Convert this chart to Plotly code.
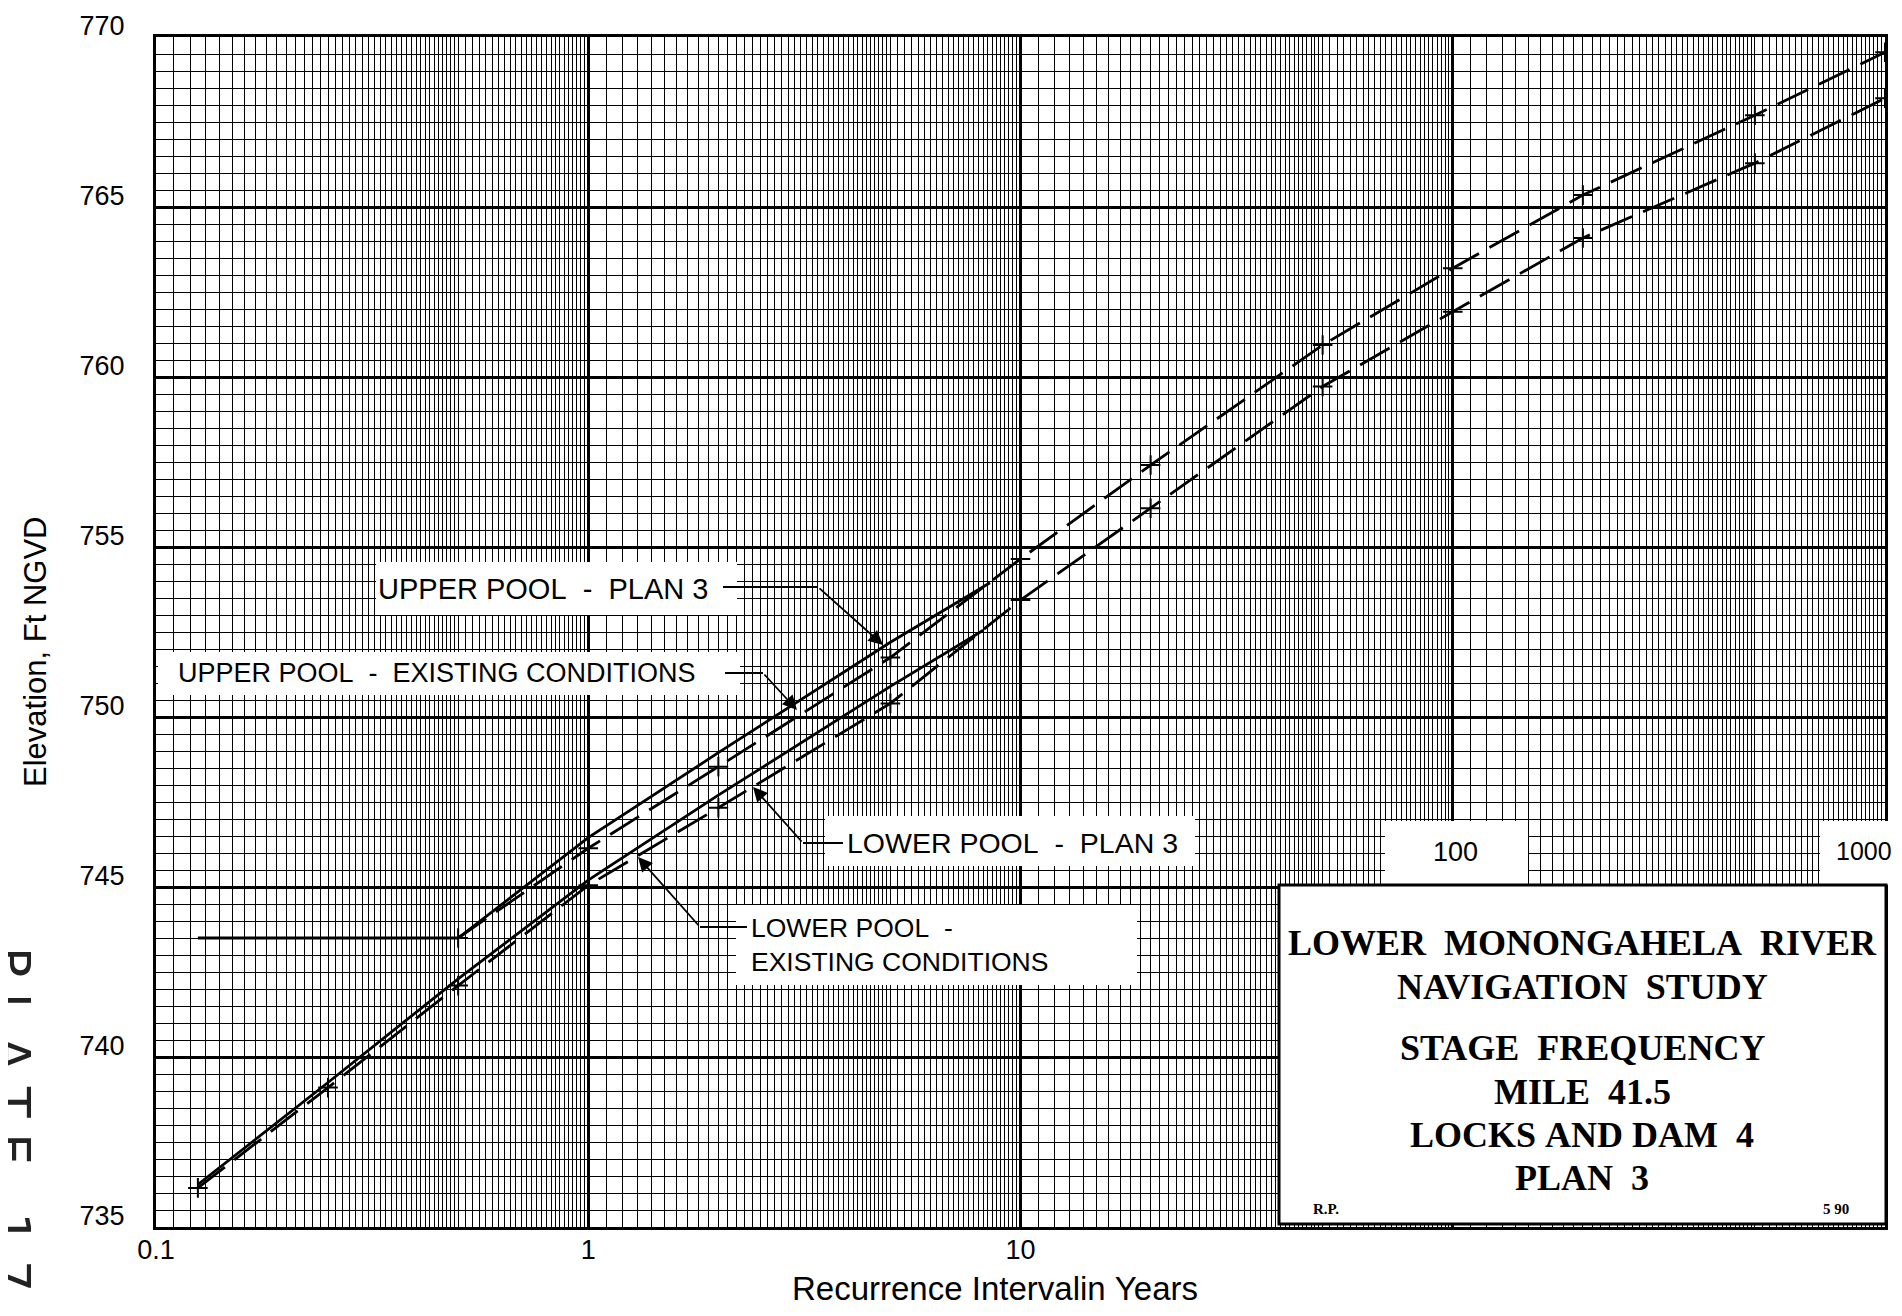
import numpy as np
import plotly.graph_objects as go

# ---------------- data ----------------
up_plan3_x = [0.125, 0.5, 1, 2, 5, 8.5]
up_plan3_y = [743.5, 743.5, 746.45, 748.95, 752.2, 753.95]

up_exist_x = [0.5, 1, 2, 5, 10, 20, 50, 100, 200, 500, 1000]
up_exist_y = [743.5, 746.14, 748.54, 751.75, 754.65, 757.41, 760.94, 763.2, 765.35, 767.7, 769.55]

lo_plan3_x = [0.125, 0.25, 0.5, 1, 2, 5, 8.2]
lo_plan3_y = [736.25, 739.25, 742.3, 745.2, 747.7, 750.9, 752.55]

lo_exist_x = [0.125, 0.25, 0.5, 1, 2, 5, 10, 20, 50, 100, 200, 500, 1000]
lo_exist_y = [736.15, 739.1, 742.1, 745.05, 747.33, 750.4, 753.44, 756.14, 759.72, 761.92, 764.09, 766.29, 768.2]

x_tick_vals = [0.1, 1, 10, 100, 1000]
x_tick_text = ["0.1", "1", "10", "", ""]
x_box_labels = ["100", "1000"]
y_tick_vals = [735, 740, 745, 750, 755, 760, 765, 770]
y_tick_text = ["735", "740", "745", "750", "755", "760", "765", "770"]

NB = "\u00a0"
title_lines = ["LOWER" + NB * 2 + "MONONGAHELA" + NB * 2 + "RIVER", "NAVIGATION" + NB * 2 + "STUDY",
               "STAGE" + NB * 2 + "FREQUENCY", "MILE" + NB * 2 + "41.5",
               "LOCKS" + NB + "AND" + NB + "DAM" + NB * 2 + "4", "PLAN" + NB * 2 + "3"]

# ---------------- geometry (page pixels) ----------------
OFF = 8                      # default body margin of the html page
FW, FH = 1902 - 2 * OFF, 1316 - 2 * OFF
L, R, T, B = 156, 1885, 37, 1227


def px(X):
    return (X - L) / (R - L)


def py(Y):
    return (B - Y) / (B - T)


SANS = "Liberation Sans, Arial, Roboto, sans-serif"
SERIF = "Liberation Serif, Times New Roman, DejaVu Serif, serif"

# log-paper minor rulings: 0.1 steps of the mantissa up to 5, then 0.2 steps
minor_x = []
for d in range(-1, 3):
    base = 10.0 ** d
    for m in np.arange(1.1, 5.0001, 0.1):
        minor_x.append(round(m * base, 6))
    for m in np.arange(5.2, 9.8001, 0.2):
        minor_x.append(round(m * base, 6))

fig = go.Figure()

LW = 2.8
DASH = "34px,12px"
fig.add_trace(go.Scatter(x=lo_exist_x, y=lo_exist_y, mode="lines+markers",
                         line=dict(color="black", width=LW, dash=DASH),
                         marker=dict(symbol="cross-thin", size=14, line=dict(color="black", width=2)),
                         showlegend=False))
fig.add_trace(go.Scatter(x=up_exist_x, y=up_exist_y, mode="lines+markers",
                         line=dict(color="black", width=LW, dash=DASH),
                         marker=dict(symbol="cross-thin", size=14, line=dict(color="black", width=2)),
                         showlegend=False))
fig.add_trace(go.Scatter(x=lo_plan3_x, y=lo_plan3_y, mode="lines",
                         line=dict(color="black", width=LW), showlegend=False))
fig.add_trace(go.Scatter(x=up_plan3_x, y=up_plan3_y, mode="lines",
                         line=dict(color="black", width=LW), showlegend=False))

shapes = []


def rect(x0, y0, x1, y1, line=0):
    shapes.append(dict(type="rect", xref="paper", yref="paper",
                       x0=px(x0), x1=px(x1), y0=py(y1), y1=py(y0),
                       fillcolor="white", layer="above",
                       line=dict(color="black", width=line)))


def seg(x0, y0, x1, y1, w=1.8):
    shapes.append(dict(type="line", xref="paper", yref="paper",
                       x0=px(x0), x1=px(x1), y0=py(y0), y1=py(y1),
                       layer="above", line=dict(color="black", width=w)))


# white label boxes
rect(376, 562, 737, 615)
rect(158, 652, 740, 695)
rect(825, 816, 1195, 866)
rect(736, 905, 1137, 985)
rect(1385, 821, 1528, 885)
rect(1820, 821, 1902, 885)
rect(1279, 885, 1886, 1224, line=3)

# leader lines
seg(723, 587, 818, 587)
seg(725, 673, 763, 673)
seg(803, 843, 843, 843)
seg(700, 927, 747, 927)

ann = []


def text(s, X, Y, size=28, anchor="center", family=SANS, bold=False, color="black", angle=0):
    ann.append(dict(text=("<b>%s</b>" % s) if bold else s, xref="paper", yref="paper",
                    x=px(X), y=py(Y), xanchor=anchor, yanchor="middle",
                    showarrow=False, textangle=angle,
                    font=dict(family=family, size=size, color=color)))


def arrow(x0, y0, xt, yt):
    ann.append(dict(text="", xref="paper", yref="paper", x=px(xt), y=py(yt),
                    ax=x0 - xt, ay=y0 - yt, axref="pixel", ayref="pixel",
                    showarrow=True, arrowhead=2, arrowsize=1.6, arrowwidth=1.8,
                    arrowcolor="black", standoff=0))


arrow(818, 587, 883, 645)
arrow(763, 673, 797, 710)
arrow(803, 843, 753, 787)
arrow(700, 927, 638, 857)

text("UPPER" + NB + "POOL" + NB * 2 + "-" + NB * 2 + "PLAN" + NB + "3", 543, 589, size=29)
text("UPPER" + NB + "POOL" + NB * 2 + "-" + NB * 2 + "EXISTING" + NB + "CONDITIONS", 176, 673,
     size=27, anchor="left")
text("LOWER" + NB + "POOL" + NB * 2 + "-" + NB * 2 + "PLAN" + NB + "3", 845, 843, size=28.5, anchor="left")
text("LOWER" + NB + "POOL" + NB * 2 + "-", 749, 928, size=26.5, anchor="left")
text("EXISTING" + NB + "CONDITIONS", 749, 962, size=26.5, anchor="left")

text(x_box_labels[0], 1455, 852, size=27)
text(x_box_labels[1], 1864, 851, size=25)

ty = [943, 987, 1048, 1092, 1135, 1178]
for s, yy in zip(title_lines, ty):
    text(s, 1582, yy, size=36, family=SERIF, bold=True)
text("R.P.", 1326, 1209, size=15, family=SERIF, bold=True)
text("5" + NB + "90", 1836, 1209, size=15, family=SERIF, bold=True)

text("Elevation," + NB + "Ft" + NB + "NGVD", 36, 652, size=31, angle=-90)
text("Recurrence" + NB + "Intervalin" + NB + "Years", 995, 1288, size=33)
text(NB.join("PLATE") + NB * 3 + "1" + NB + "7", 12, 1119,
     size=50, angle=90, family="DejaVu Sans", color="#222")

fig.update_layout(
    width=FW, height=FH, autosize=False,
    margin=dict(l=L - OFF, r=(OFF + FW) - R, t=T - OFF, b=(OFF + FH) - B, pad=0, autoexpand=False),
    paper_bgcolor="white", plot_bgcolor="white",
    shapes=shapes, annotations=ann, showlegend=False,
    xaxis=dict(type="log", range=[-1, 3], tickmode="array", automargin=False,
               tickvals=x_tick_vals, ticktext=x_tick_text,
               showgrid=True, gridcolor="black", gridwidth=3,
               minor=dict(tickmode="array", tickvals=minor_x, showgrid=True,
                          gridcolor="black", gridwidth=1, ticks=""),
               showline=True, linecolor="black", linewidth=3, mirror=True,
               ticks="", ticklabelstandoff=-3, zeroline=False,
               tickfont=dict(family=SANS, size=27, color="black")),
    yaxis=dict(range=[735, 770], tickmode="array", automargin=False,
               tickvals=y_tick_vals, ticktext=y_tick_text,
               showgrid=True, gridcolor="black", gridwidth=3,
               minor=dict(dtick=0.5, tick0=735, showgrid=True,
                          gridcolor="black", gridwidth=1, ticks=""),
               showline=True, linecolor="black", linewidth=3, mirror=True,
               ticks="", ticklabelstandoff=23, ticklabelshift=-11, zeroline=False,
               tickfont=dict(family=SANS, size=27, color="black")),
)

fig.write_html("out.html")
